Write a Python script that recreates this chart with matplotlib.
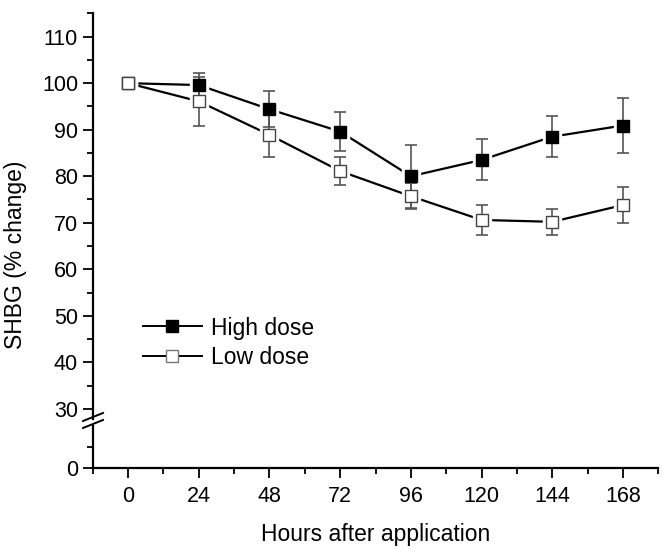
import numpy as np
import matplotlib
matplotlib.use("Agg")
import matplotlib.pyplot as plt
from matplotlib.ticker import MultipleLocator, FixedLocator

plt.rcParams['font.family'] = ['Liberation Sans', 'DejaVu Sans']

# data
hours = [0, 24, 48, 72, 96, 120, 144, 168]
high_mean = [100, 99.6, 94.4, 89.6, 80.0, 83.5, 88.5, 90.9]
high_err = [0, 2.5, 3.9, 4.1, 6.8, 4.4, 4.4, 6.0]
low_mean = [100, 96.1, 88.9, 81.1, 75.7, 70.6, 70.2, 73.8]
low_err = [0, 5.2, 4.8, 3.0, 2.8, 3.2, 2.8, 3.9]

W, H = 667, 553
fig = plt.figure(figsize=(W / 100, H / 100), dpi=100)

def box(x0, y0, x1, y1):
    # pixel box (top-left origin) -> figure fraction rect
    return [x0 / W, 1 - y1 / H, (x1 - x0) / W, (y1 - y0) / H]

ax = fig.add_axes(box(92.7, 12.7, 658.3, 418.6))
ax_lo = fig.add_axes(box(92.7, 426, 658.3, 467.7), sharex=ax)

series = [
    (high_mean, high_err, 'black', 'black', 'High dose'),
    (low_mean, low_err, 'white', '#444444', 'Low dose'),
]

for mean, err, face, edge, label in series:
    ax.plot(hours, mean, color='black', lw=1.6, zorder=1)
    # white halo so the line stops short of the markers
    ax.plot(hours, mean, ls='none', marker='s', ms=13.5, mfc='white',
            mec='white', zorder=2)
    ax.errorbar(hours, mean, yerr=err, fmt='none', ecolor='#555555',
                elinewidth=1.2, capsize=4, capthick=1.2, zorder=3)
    ax.plot(hours, mean, ls='none', marker='s', ms=9.3, mfc=face, mec=edge,
            mew=1.0, zorder=4)

# legend handles
h_high, = ax.plot([], [], color='black', lw=1.4, marker='s', ms=9,
                  mfc='black', mec='black')
h_low, = ax.plot([], [], color='black', lw=1.4, marker='s', ms=9,
                 mfc='white', mec='#777777')
leg = ax.legend([h_high, h_low], ['High dose', 'Low dose'], loc='upper left',
                bbox_to_anchor=((142.7 - 92.7) / 565.6, (418.6 - 316.5) / 405.9),
                frameon=False, fontsize=16.5, handlelength=2.6,
                handletextpad=0.4, labelspacing=0.3, borderaxespad=0,
                borderpad=0)

ax.set_xlim(-12, 180)
ax.set_ylim(27.9, 115.15)
ax_lo.set_ylim(0, 10)

for a in (ax, ax_lo):
    a.spines['top'].set_visible(False)
    a.spines['right'].set_visible(False)
    a.spines['left'].set_linewidth(1.6)
    a.spines['bottom'].set_linewidth(1.6)
    a.tick_params(which='major', direction='out', length=7, width=1.3,
                  labelsize=15.5)
    a.tick_params(which='minor', direction='out', length=4, width=1.3)
    a.patch.set_alpha(0)

ax.spines['bottom'].set_visible(False)
ax.tick_params(axis='x', which='both', bottom=False, labelbottom=False)
ax.yaxis.set_minor_locator(MultipleLocator(5))
ax.set_yticks(np.arange(30, 111, 10))

ax_lo.set_yticks([0])
ax_lo.yaxis.set_minor_locator(FixedLocator([5]))
ax_lo.set_xticks(hours)
ax_lo.xaxis.set_minor_locator(MultipleLocator(12))
ax_lo.tick_params(axis='x', which='major', pad=6)
ax_lo.set_xlabel('Hours after application', fontsize=16.5, labelpad=12)

# break marks on the y axis
for yb in (417, 424):
    fig.add_artist(plt.Line2D([83 / W, 103 / W],
                              [1 - (yb + 4) / H, 1 - (yb - 4) / H],
                              color='black', lw=1.4))

fig.text(16 / W, 1 - 255 / H, 'SHBG (% change)', rotation=90,
         ha='center', va='center', fontsize=16.5)

fig.savefig('out.png', dpi=100)
